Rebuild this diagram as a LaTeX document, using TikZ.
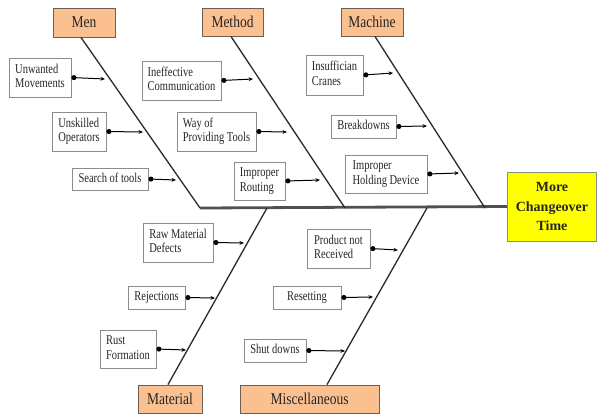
\documentclass[tikz,border=0pt]{standalone}
\usepackage{fontspec}
\usepackage{graphicx}
\setmainfont{Liberation Serif}
\usetikzlibrary{arrows.meta}
\definecolor{catfill}{HTML}{FAC090}
\definecolor{catdraw}{HTML}{6E5F55}
\definecolor{effill}{HTML}{FFFF00}
\definecolor{boxdraw}{HTML}{8C8C8C}
\definecolor{bonecol}{HTML}{2A2A2A}
\definecolor{spinecol}{HTML}{505050}
\newcommand{\vtext}[1]{\scalebox{1}[1.28]{\begin{tabular}{@{}l@{}}#1\end{tabular}}}
\newcommand{\vcat}[1]{\scalebox{1}[1.22]{#1}}
\begin{document}
\begin{tikzpicture}[x=1pt,y=-1pt,
  cat/.style={draw=catdraw,line width=0.9pt,fill=catfill,inner sep=0pt,
    font=\fontsize{13.5}{15}\selectfont,text=black!85},
  cause/.style={draw=boxdraw,line width=0.8pt,fill=white,inner sep=0pt,
    font=\fontsize{10.5}{11.7}\selectfont,text=black!85},
  effect/.style={draw=boxdraw,line width=0.9pt,fill=effill,inner sep=0pt,align=center,
    font=\fontsize{14}{19.5}\selectfont\bfseries,text=black!85},
  bone/.style={draw=bonecol,line width=1.3pt},
  spine/.style={draw=spinecol,line width=2.8pt},
  feed/.style={draw=black,line width=1pt,{Circle[length=5pt]}-{Stealth[length=4.5pt,width=3.8pt]}}
]
\useasboundingbox (0,0) rectangle (597,416);

% effect
\node[effect,minimum width=89pt,minimum height=69pt] (eff) at (552,206.5) {More\\Changeover\\Time};

% categories
\node[cat,minimum width=62pt,minimum height=29pt] (men) at (84,22.5) {\vcat{Men}};
\node[cat,minimum width=61pt,minimum height=28pt] (met) at (232.5,22) {\vcat{Method}};
\node[cat,minimum width=62pt,minimum height=28pt] (mac) at (372,22) {\vcat{Machine}};
\node[cat,minimum width=64pt,minimum height=28pt] (mat) at (170,399) {\vcat{Material}};
\node[cat,minimum width=139pt,minimum height=28pt] (mis) at (309.5,399) {\vcat{Miscellaneous}};

% spine points
\coordinate (menS) at (200,208);
\coordinate (metS) at (345,208);
\coordinate (macS) at (485,208);
\coordinate (matS) at (267,208);
\coordinate (misS) at (427,208);

\draw[spine] (menS) -- (eff.west);
\draw[bone] ([xshift=-3pt]men.south) -- (menS);
\draw[bone] ([xshift=-1.5pt]met.south) -- (metS);
\draw[bone] ([xshift=3pt]mac.south) -- (macS);
\draw[bone] ([xshift=-2pt]mat.north) -- (matS);
\draw[bone] ([xshift=17.5pt]mis.north) -- (misS);

% causes: Men
\node[cause,minimum width=62pt,minimum height=39pt] (m1) at (40,77.5) {\vtext{Unwanted\\Movements}};
\node[cause,minimum width=54pt,minimum height=39pt] (m2) at (79,131.5) {\vtext{Unskilled\\Operators}};
\node[cause,minimum width=76pt,minimum height=22pt] (m3) at (110,179) {\vtext{Search of tools}};
% Method
\node[cause,minimum width=79pt,minimum height=39pt] (t1) at (181.5,80.5) {\vtext{Ineffective\\Communication}};
\node[cause,minimum width=79pt,minimum height=39pt] (t2) at (216.5,131.5) {\vtext{Way of\\Providing Tools}};
\node[cause,minimum width=51pt,minimum height=38pt] (t3) at (259.5,181) {\vtext{Improper\\Routing}};
% Machine
\node[cause,minimum width=57pt,minimum height=40pt] (c1) at (334.5,75) {\vtext{Insuffician\\Cranes}};
\node[cause,minimum width=65pt,minimum height=23pt] (c2) at (363.5,126.5) {\vtext{Breakdowns}};
\node[cause,minimum width=82pt,minimum height=38pt] (c3) at (386,174) {\vtext{Improper\\Holding Device}};
% Material
\node[cause,minimum width=70pt,minimum height=39pt] (a1) at (178,242.5) {\vtext{Raw Material\\Defects}};
\node[cause,minimum width=57pt,minimum height=23pt] (a2) at (156.5,297.5) {\vtext{Rejections}};
\node[cause,minimum width=56pt,minimum height=38pt] (a3) at (128,349) {\vtext{Rust\\Formation}};
% Miscellaneous
\node[cause,minimum width=63pt,minimum height=39pt] (s1) at (338.5,248.5) {\vtext{Product not\\Received}};
\node[cause,minimum width=68pt,minimum height=23pt] (s2) at (307,297.5) {\vtext{Resetting}};
\node[cause,minimum width=62pt,minimum height=23pt] (s3) at (275,350.5) {\vtext{Shut downs}};

% arrow tips
\coordinate (m1e) at (105,79);
\coordinate (m2e) at (143,132);
\coordinate (m3e) at (176,180);
\coordinate (t1e) at (253,79);
\coordinate (t2e) at (287,132);
\coordinate (t3e) at (320,180);
\coordinate (c1e) at (393,73);
\coordinate (c2e) at (427,126);
\coordinate (c3e) at (459,173);
\coordinate (a1e) at (244,243);
\coordinate (a2e) at (215,298);
\coordinate (a3e) at (186,350);
\coordinate (s1e) at (398,250);
\coordinate (s2e) at (373,297);
\coordinate (s3e) at (345,351);

\foreach \n in {m1,m2,m3,t1,t2,t3,c1,c2,c3,a1,a2,a3,s1,s2,s3}
  \draw[feed] (\n.east) -- (\n e);
\end{tikzpicture}
\end{document}
